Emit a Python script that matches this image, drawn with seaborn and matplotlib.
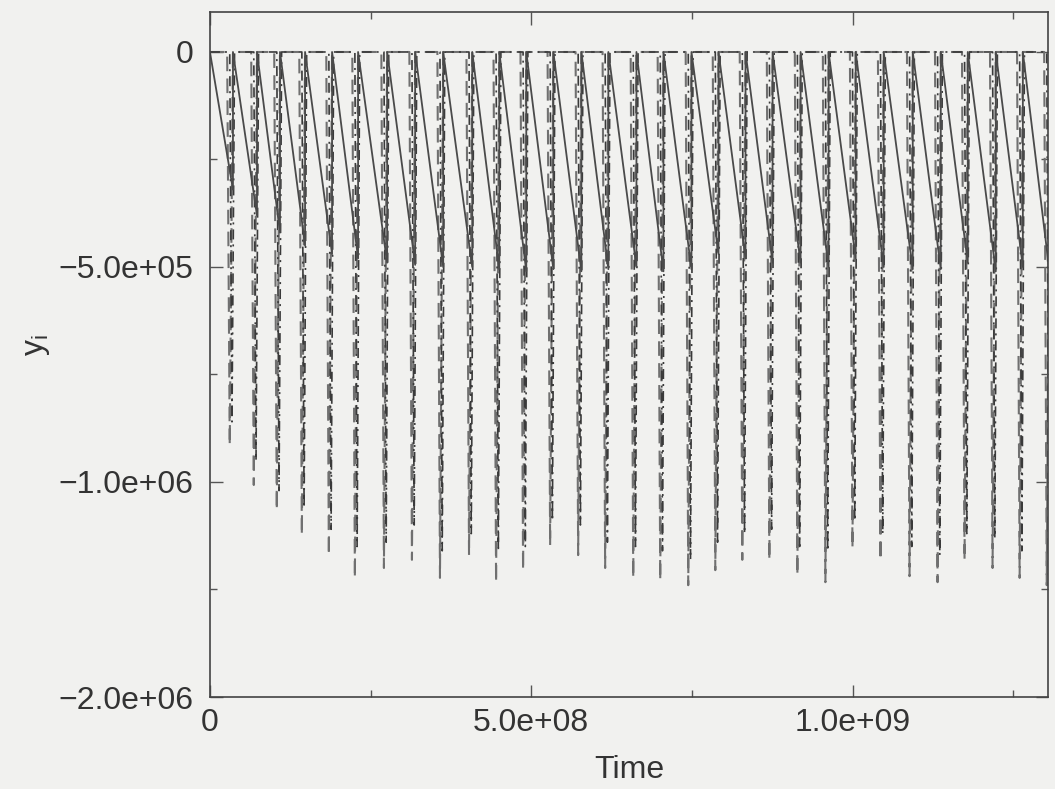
import matplotlib
matplotlib.use('Agg')
import matplotlib.pyplot as plt
import pandas as pd
import seaborn as sns
from matplotlib.ticker import MultipleLocator, FixedLocator, FixedFormatter

# reset times of each tooth (units of 1e8), last one is past the right edge
reset_t = [0.358, 0.732, 1.090, 1.480, 1.900, 2.305, 2.757, 3.193, 3.629, 4.081,
           4.502, 4.922, 5.343, 5.779, 6.199, 6.636, 7.056, 7.492, 7.913, 8.333,
           8.754, 9.190, 9.626, 10.047, 10.483, 10.935, 11.371, 11.791, 12.227, 12.648,
           13.070]

# tooth minima (units of 1e5)
solid_min = [-3.2, -3.8, -4.2, -4.5, -4.7, -4.8, -4.9, -4.95, -5.0, -5.0,
             -5.05, -5.1, -5.05, -5.1, -5.05, -5.0, -5.1, -5.05, -4.7, -4.8,
             -4.9, -4.9, -5.0, -4.8, -5.0, -5.05, -5.05, -4.9, -5.1, -5.0,
             -5.2]
dash_min = [-9.14, -10.07, -10.65, -11.23, -11.70, -12.23, -12.00, -11.81, -12.23, -11.70,
            -12.33, -12.05, -11.47, -11.70, -12.00, -12.23, -12.28, -12.40, -12.05, -11.81,
            -11.81, -12.16, -12.33, -11.53, -11.81, -12.19, -12.33, -11.81, -12.00, -12.23,
            -12.40]
dashdot_min = [-8.6, -9.5, -10.2, -10.6, -11.1, -11.5, -11.4, -11.0, -11.6, -11.2,
               -11.6, -11.5, -10.9, -11.0, -11.4, -11.5, -11.6, -11.8, -11.4, -11.2,
               -11.1, -11.5, -11.6, -10.9, -11.2, -11.5, -11.7, -11.2, -11.3, -11.6,
               -11.8]

y_ticks = [0, -5e5, -1e6, -1.5e6]
y_ticklabels = ['0', '\u22125.0e+05', '\u22121.0e+06', '\u22122.0e+06']
x_ticks = [0, 5e8, 1e9]
x_ticklabels = ['0', '5.0e+08', '1.0e+09']


def solid_frame(mins):
    t, y = [0.0], [0.0]
    for r, m in zip(reset_t, mins):
        t += [r, r]
        y += [m, 0.0]
    return pd.DataFrame({'t': [v * 1e8 for v in t], 'y': [v * 1e5 for v in y]})


def spike_frame(mins, lead, low, back):
    t, y = [0.0], [0.0]
    for r, m in zip(reset_t, mins):
        t += [r - lead, r - low, r + back]
        y += [0.0, m, 0.0]
    return pd.DataFrame({'t': [v * 1e8 for v in t], 'y': [v * 1e5 for v in y]})


bg = '#f1f1ef'
sns.set_style('ticks')
plt.rcParams['font.family'] = ['Liberation Sans', 'DejaVu Sans']

fig = plt.figure(figsize=(10.55, 7.89), dpi=100, facecolor=bg)
ax = fig.add_axes([0.199, 0.1166, 0.7944, 0.8682])
ax.set_facecolor(bg)

sns.lineplot(data=spike_frame(dash_min, 0.09, 0.05, 0.0), x='t', y='y', sort=False,
             estimator=None, ax=ax, color='#707070', linewidth=1.5)
ax.lines[-1].set_dashes((7, 3.5))
sns.lineplot(data=spike_frame(dashdot_min, 0.05, 0.015, 0.025), x='t', y='y', sort=False,
             estimator=None, ax=ax, color='#3a3a3a', linewidth=1.2)
ax.lines[-1].set_dashes((6, 3, 1.2, 3))
sns.lineplot(data=solid_frame(solid_min), x='t', y='y', sort=False,
             estimator=None, ax=ax, color='#4a4a4a', linewidth=1.3)

ax.set_xlim(0, 1.304e9)
ax.set_ylim(-1.5e6, 0.093e6)

ax.xaxis.set_major_locator(FixedLocator(x_ticks))
ax.xaxis.set_major_formatter(FixedFormatter(x_ticklabels))
ax.xaxis.set_minor_locator(MultipleLocator(2.5e8))
ax.yaxis.set_major_locator(FixedLocator(y_ticks))
ax.yaxis.set_major_formatter(FixedFormatter(y_ticklabels))
ax.yaxis.set_minor_locator(MultipleLocator(2.5e5))

ax.tick_params(which='both', direction='in', top=True, right=True, colors='#555555',
               labelcolor='#333333')
ax.tick_params(which='major', length=9, width=1, labelsize=23, pad=12)
ax.tick_params(axis='x', which='major', pad=8)
ax.tick_params(which='minor', length=5, width=1)
for s in ax.spines.values():
    s.set_color('#444444')
    s.set_linewidth(1.2)

ax.set_xlabel('Time', fontsize=23, color='#333333', labelpad=12)
ax.set_ylabel(r'$\mathregular{y_i}$', fontsize=23, color='#333333')
ax.yaxis.set_label_coords(-0.189, 0.514)

fig.savefig('out.png', dpi=100, facecolor=bg)
